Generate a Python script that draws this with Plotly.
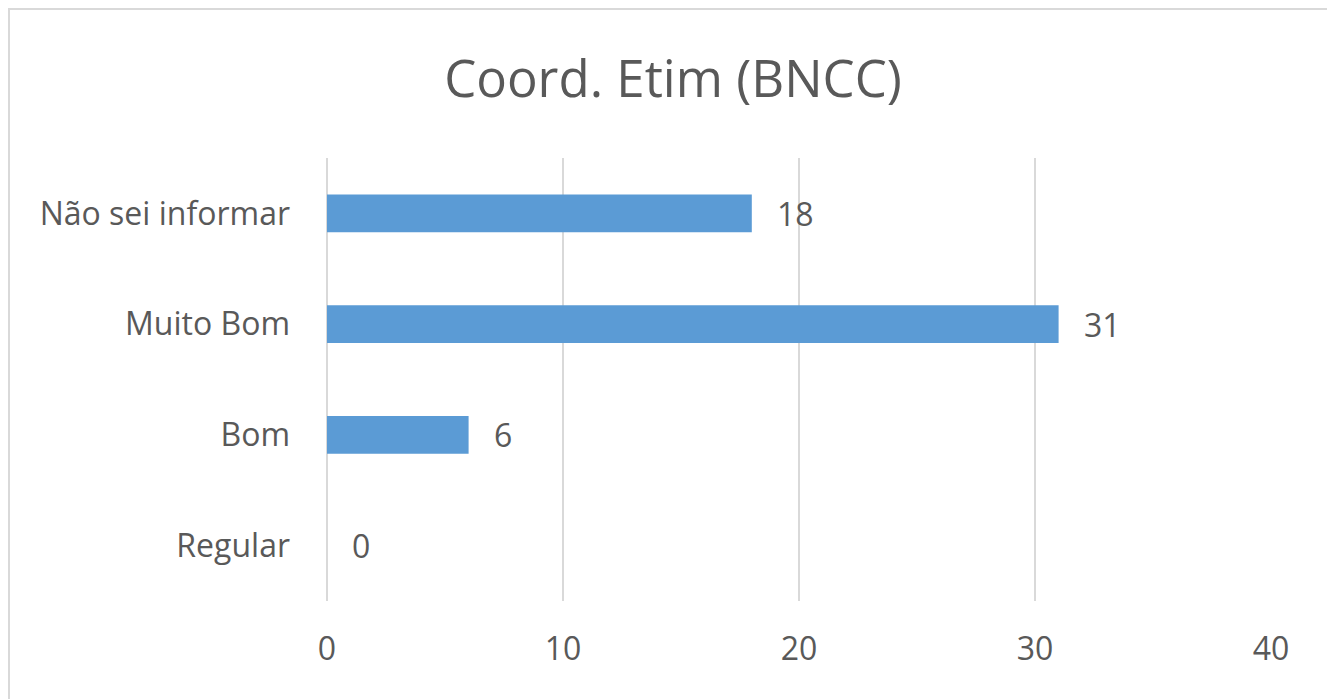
import plotly.graph_objects as go

categories = ["Regular", "Bom", "Muito Bom", "Não sei informar"]
values = [0, 6, 31, 18]
x_ticks = [0, 10, 20, 30, 40]

W, H = 1327, 699
L, R, T, B = 327, 56, 158, 98
plot_w = W - L - R
plot_h = H - T - B

bar_color = "#5B9BD5"
text_color = "#595959"
grid_color = "#D9D9D9"
font_family = "Open Sans, Noto Sans, sans-serif"
label_size = 32

fig = go.Figure(
    go.Bar(
        x=values,
        y=categories,
        orientation="h",
        marker=dict(color=bar_color, line=dict(width=0)),
        width=0.34,
        hoverinfo="skip",
    )
)

for cat, val in zip(categories, values):
    fig.add_annotation(
        x=val, y=cat, text=str(val), showarrow=False,
        xanchor="left", yanchor="middle", xshift=23,
        font=dict(family=font_family, size=label_size, color=text_color),
    )

# chart frame
def px_to_paper_x(px):
    return (px - L) / plot_w

def px_to_paper_y(py):
    return (H - B - py) / plot_h

fig.add_shape(
    type="rect", xref="paper", yref="paper",
    x0=px_to_paper_x(9), x1=px_to_paper_x(W + 5),
    y0=px_to_paper_y(H + 5), y1=px_to_paper_y(9),
    line=dict(color=grid_color, width=2), fillcolor="rgba(0,0,0,0)",
    layer="below",
)

fig.update_layout(
    width=W, height=H,
    margin=dict(l=L, r=R, t=T, b=B, pad=0),
    paper_bgcolor="white", plot_bgcolor="white",
    showlegend=False,
    title=dict(
        text="Coord. Etim (BNCC)",
        x=673 / W, xanchor="center",
        y=1 - 79 / H, yanchor="middle",
        font=dict(family=font_family, size=51, color=text_color),
    ),
    xaxis=dict(
        range=[0, 40], tickvals=x_ticks, showgrid=True,
        gridcolor=grid_color, gridwidth=2,
        zeroline=True, zerolinecolor=grid_color, zerolinewidth=2,
        showline=False, ticks="",
        tickfont=dict(family=font_family, size=label_size, color=text_color),
        ticklabelstandoff=26,
        fixedrange=True,
    ),
    yaxis=dict(
        categoryorder="array", categoryarray=categories,
        range=[-0.5, 3.5], showgrid=False, zeroline=False,
        showline=False, ticks="",
        tickfont=dict(family=font_family, size=label_size, color=text_color),
        ticklabelstandoff=36,
        fixedrange=True,
    ),
)

fig.write_html("out.html")
